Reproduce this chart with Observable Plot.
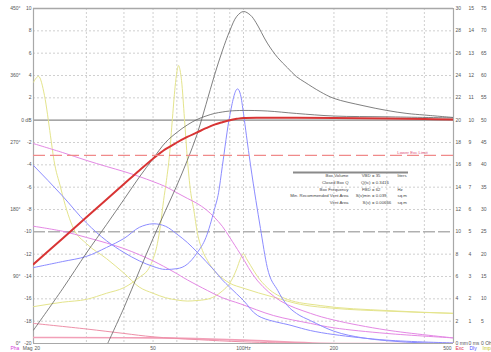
<!DOCTYPE html>
<html><head><meta charset="utf-8">
<script src="https://cdn.jsdelivr.net/npm/d3@7"></script>
<script src="https://cdn.jsdelivr.net/npm/@observablehq/plot@0.6"></script>
<style>html,body{margin:0;padding:0;background:#fff;overflow:hidden}svg{display:block}</style>
</head><body><div id="chart"></div>
<script>
// ---- axis ticks / labels ----
const dbTicks = [10,8,6,4,2,0,-2,-4,-6,-8,-10,-12,-14,-16,-18,-20];
const dbLabels = ["10","8","6","4","2","0 dB","-2","-4","-6","-8","-10","-12","-14","-16","-18","-20"];
const degTicks = [450,360,270,180,90,0];
const degLabels = ["450°","360°","270°","180°","90°","0°"];
const mmTicks = [30,28,26,24,22,20,18,16,14,12,10,8,6,4,2,0];
const mmLabels = ["30","28","26","24","22","20","18","16","14","12","10","8","6","4","2","0 mm"];
const msTicks = [15,14,13,12,11,10,9,8,7,6,5,4,3,2,1,0];
const msLabels = ["15","14","13","12","11","10","9","8","7","6","5","4","3","2","1","0 ms"];
const ohmTicks = [75,70,65,60,55,50,45,40,35,30,25,20,15,10,5,0];
const ohmLabels = ["75","70","65","60","55","50","45","40","35","30","25","20","15","10","5","0 Oh"];
const freqTicks = [20,50,100,200,500];
const freqLabels = ["20","50","100Hz","200","500"];
const freqGrid = [30,40,50,60,70,80,90,100,200,300,400];
const dbGrid = [8,6,4,2,-2,-4,-6,-8,-12,-14,-16,-18];
const lowerExcLimit = -3.15;   // on dB scale
const midLine = -10;

// ---- series: [frequency Hz, value on left dB scale] ----
const splRed = [[20,-12.9],[25,-10.6],[30,-8.7],[35,-7.1],[40,-5.72],[45,-4.5],[50,-3.45],[55,-2.6],[60,-2.0],[65,-1.5],[70,-1.1],[75,-0.72],[80,-0.4],[85,-0.18],[90,0.0],[95,0.12],[100,0.2],[120,0.22],[150,0.22],[200,0.2],[300,0.15],[400,0.1],[500,0.05]];
const grayHump = [[20,-18.8],[25,-15.1],[30,-11.9],[35,-9.35],[40,-7.1],[45,-5.1],[50,-3.45],[55,-2.0],[60,-1.1],[65,-0.43],[70,0.06],[75,0.37],[80,0.6],[85,0.73],[90,0.82],[100,0.87],[120,0.82],[150,0.6],[200,0.37],[300,0.3],[500,0.2]];
const grayPeak = [[35.3,-20],[40,-16.8],[45,-13.5],[50,-10.6],[55,-8.1],[60,-5.85],[65,-3.6],[70,-1.3],[75,1.4],[80,4.0],[85,6.2],[90,8.0],[95,9.3],[100,9.73],[105.5,9.4],[110,8.75],[120,6.9],[130,5.6],[140,4.7],[150,3.9],[160,3.4],[180,2.55],[200,1.95],[250,1.3],[300,0.87],[350,0.6],[400,0.46],[500,0.24]];
const blueA = [[20,-4.06],[25,-6.8],[30,-9.2],[35,-10.8],[40,-11.85],[45,-12.6],[50,-13.1],[55,-13.37],[60,-13.3],[65,-12.9],[70,-11.9],[75,-10.5],[80,-8.0],[82.6,-6.5],[85,-4.15],[90,0.4],[95.5,2.8],[97.7,2.3],[100,0.6],[102.3,-1.4],[105.5,-4.0],[110,-7.2],[113.9,-9.7],[120,-13.2],[130,-15.25],[140,-16.6],[150,-17.3],[167,-17.95],[200,-18.9],[250,-19.5],[300,-19.75],[400,-19.95],[500,-20]];
const blueB = [[20,-13.2],[25,-12.66],[30,-12.2],[35,-11.4],[40,-10.6],[45,-9.6],[50,-9.28],[55,-9.5],[60,-10.2],[65,-10.95],[70,-11.8],[75,-12.65],[80,-13.46],[85,-14.3],[90,-14.96],[100,-16.15],[111.5,-17.5],[145,-18.4],[167,-18.84],[200,-19.2],[300,-19.7],[500,-19.95]];
const phaseA = [[20,-2.1],[25,-2.9],[30,-3.6],[35,-4.15],[40,-4.6],[45,-5.05],[50,-5.5],[55,-5.95],[60,-6.5],[65,-7.0],[70,-7.45],[75,-8.0],[80,-8.7],[85,-9.5],[90,-10.5],[97.7,-12.0],[111.5,-14.4],[133,-16.2],[167,-17.3],[200,-17.9],[300,-18.8],[500,-19.5]];
const phaseB = [[20,-9.5],[25,-9.95],[30,-10.5],[35,-11.0],[40,-11.5],[45,-12.05],[50,-12.6],[58.7,-13.6],[65,-14.3],[75.8,-15.25],[85,-15.9],[97.7,-16.45],[126,-17.5],[167,-18.2],[200,-18.6],[300,-19.1],[500,-19.5]];
const impVented = [[20,3.4],[20.78,3.92],[21.76,2.2],[22.78,-1.4],[23.4,-3.6],[24.6,-6.0],[25,-6.75],[27.17,-9.7],[30,-11.05],[35,-12.4],[40,-13.7],[45,-14.95],[50,-15.5],[55,-15.9],[60,-16.1],[65,-16.2],[70,-16.15],[75,-16.06],[80,-15.8],[85,-15.3],[90,-14.6],[95,-13.3],[97.7,-12.4],[100,-11.97],[102.3,-12.4],[105.5,-13.0],[111.3,-14.0],[120,-15.0],[140,-16.05],[180,-16.6],[300,-17.05],[500,-17.3]];
const impClosed = [[20,-16.7],[25,-16.3],[30,-16.05],[35,-15.5],[40,-15.0],[45.4,-14.0],[47.9,-13.46],[49.8,-12.57],[51.7,-11.04],[52.9,-9.43],[54.2,-7.19],[55.4,-5.4],[56.7,-3.16],[58.0,0.15],[59.4,3.37],[60.3,4.63],[60.8,4.9],[61.2,4.72],[62.2,3.55],[63.6,0.15],[65.1,-3.61],[66.6,-6.3],[68.2,-7.91],[70.3,-10.15],[73.0,-11.67],[75.9,-12.57],[80,-13.5],[85,-14.15],[90,-14.6],[100,-15.05],[126,-15.85],[155,-16.5],[200,-16.85],[300,-17.1],[500,-17.3]];
const excA = [[20,-18.2],[30,-18.7],[40,-19.1],[50,-19.4],[70,-19.65],[100,-19.85],[170,-20],[500,-20]];
const excB = [[20,-19.46],[50,-19.5],[100,-19.7],[170,-19.95],[500,-20]];

// ---- info box ----
const boxLabels = ["Box Volume","Closed Box Q","Box Frequency","Min. Recommended Vent Area","Vent Area"];
const boxSymbols = ["VBD","Q(tc)","FBD","S(v)min","S(v)"];
const boxValues = ["35","0.3416","62","0.039","0.00666"];
const boxUnits = ["liters","","Hz","sq.m","sq.m"];

// pixel -> data helpers for annotation placement
const fx = px => 20 * Math.pow(25, (px - 33) / 420);
const fy = py => 10 - (py - 8) * 30 / 335;

const font = "Liberation Sans, Arial, sans-serif";
const lineOpts = (data, stroke, w, curve = "monotone-x") => Plot.line(data, {x: d => d[0], y: d => d[1], stroke, strokeWidth: w, curve, clip: true});
const rowY = (d, i) => fy(175.5 + i * 6.6);

const chart = Plot.plot({
  width: 491, height: 352,
  marginLeft: 33, marginRight: 38, marginTop: 8, marginBottom: 9,
  x: {type: "log", domain: [20, 500], axis: null},
  y: {domain: [-20, 10], axis: null},
  style: {background: "#fff", fontFamily: font, fontSize: "5px", overflow: "hidden"},
  marks: [
    Plot.ruleY(dbGrid, {stroke: "#c4c4c4", strokeWidth: 0.8, strokeDasharray: "2,2"}),
    Plot.ruleX(freqGrid, {stroke: "#c4c4c4", strokeWidth: 0.8, strokeDasharray: "2,2"}),
    Plot.ruleY([midLine], {stroke: "#8a8a8a", strokeWidth: 1, strokeDasharray: "12,3"}),
    Plot.ruleY([0], {stroke: "#8a8a8a", strokeWidth: 1.3}),
    Plot.ruleY([10], {stroke: "#a8a8a8", strokeWidth: 1.5}),
    Plot.ruleY([-20], {stroke: "#a8a8a8", strokeWidth: 1}),
    Plot.ruleX([20, 500], {stroke: "#a8a8a8", strokeWidth: 1.2}),
    // curves
    lineOpts(excB, "#f2a0b8", 1.6, "catmull-rom"),
    lineOpts(excA, "#ee90a8", 1, "catmull-rom"),
    lineOpts(impClosed, "#e4e48c", 1),
    lineOpts(impVented, "#e4e48c", 1),
    lineOpts(phaseA, "#e488e4", 1, "catmull-rom"),
    lineOpts(phaseB, "#e488e4", 1, "catmull-rom"),
    lineOpts(blueA, "#8c8cff", 1),
    lineOpts(blueB, "#8c8cff", 1, "catmull-rom"),
    lineOpts(grayPeak, "#606060", 0.8, "catmull-rom"),
    lineOpts(grayHump, "#606060", 0.8, "catmull-rom"),
    lineOpts(splRed, "#d83434", 2, "catmull-rom"),
    Plot.ruleY([lowerExcLimit], {stroke: "#f08a8a", strokeWidth: 1.2, strokeDasharray: "12,5"}),
    Plot.text(["Lower Exc Limit"], {x: fx(412), y: fy(152), text: d => d, fill: "#e0507a", fontSize: 4.3, textAnchor: "middle"}),
    // info box
    Plot.ruleY([fy(172)], {x1: fx(293), x2: fx(408), stroke: "#8a8a8a", strokeWidth: 2}),
    Plot.text(boxLabels, {x: fx(348), y: rowY, text: d => d, textAnchor: "end", fill: "#444", fontSize: 4.3}),
    Plot.text(boxSymbols, {x: fx(370), y: rowY, text: d => d, textAnchor: "end", fill: "#444", fontSize: 4.3}),
    Plot.text(boxValues, {x: fx(371.5), y: rowY, text: d => "= " + d, textAnchor: "start", fill: "#444", fontSize: 4.3}),
    Plot.text(boxUnits, {x: fx(397), y: rowY, text: d => d, textAnchor: "start", fill: "#444", fontSize: 4.3}),
    // left labels
    Plot.text(dbTicks, {x: 20, y: d => d, text: (d, i) => dbLabels[i], textAnchor: "end", dx: -2, fill: "#555"}),
    Plot.text(degTicks, {x: 20, y: d => -20 + d / 15, text: (d, i) => degLabels[i], textAnchor: "end", dx: -13, fill: "#555"}),
    // right labels
    Plot.text(mmTicks, {x: 500, y: d => d - 20, text: (d, i) => mmLabels[i], textAnchor: "start", dx: 2, fill: "#555"}),
    Plot.text(msTicks, {x: 500, y: d => d * 2 - 20, text: (d, i) => msLabels[i], textAnchor: "start", dx: 15, fill: "#555"}),
    Plot.text(ohmTicks, {x: 500, y: d => d / 2.5 - 20, text: (d, i) => ohmLabels[i], textAnchor: "start", dx: 27.5, fill: "#555"}),
    // bottom labels
    Plot.text([freqTicks[0]], {x: d => d, y: -20, text: () => freqLabels[0], textAnchor: "start", dx: 1, dy: 4.5, fill: "#555"}),
    Plot.text(freqTicks.slice(1, -1), {x: d => d, y: -20, text: (d, i) => freqLabels[i + 1], textAnchor: "middle", dy: 4.5, fill: "#555"}),
    Plot.text([freqTicks[4]], {x: d => d, y: -20, text: () => freqLabels[4], textAnchor: "end", dx: -2, dy: 4.5, fill: "#555"}),
    Plot.text(["Mag"], {x: 20, y: -20, text: d => d, textAnchor: "end", dx: -1, dy: 4.5, fill: "#555"}),
    Plot.text(["Pha"], {x: 20, y: -20, text: d => d, textAnchor: "start", dx: -23, dy: 5, fill: "#d840d8"}),
    Plot.text(["Exc"], {x: 500, y: -20, text: d => d, textAnchor: "start", dx: 2, dy: 5, fill: "#e03050"}),
    Plot.text(["Dly"], {x: 500, y: -20, text: d => d, textAnchor: "start", dx: 16, dy: 5, fill: "#5050ff"}),
    Plot.text(["Imp"], {x: 500, y: -20, text: d => d, textAnchor: "start", dx: 29, dy: 5, fill: "#c8c820"})
  ]
});
document.getElementById("chart").appendChild(chart);
</script></body></html>
